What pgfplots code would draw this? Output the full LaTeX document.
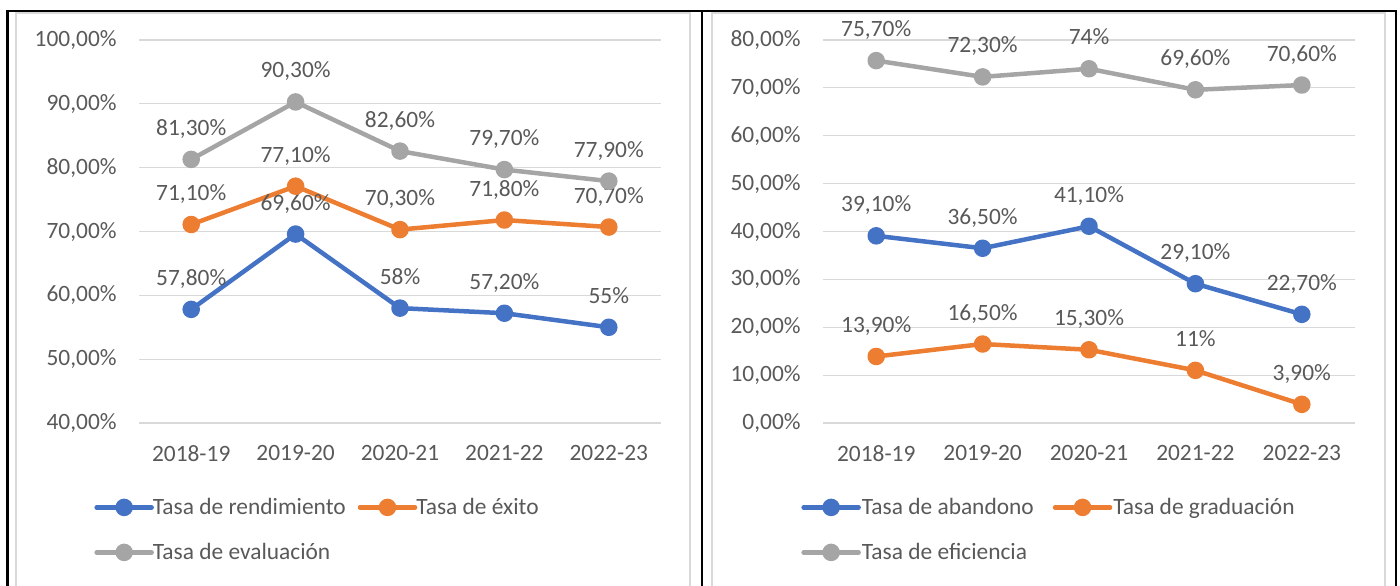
\documentclass[border=0pt]{standalone}
\usepackage{fontspec}
\setmainfont{Carlito}
\usepackage{pgfplots}
\pgfplotsset{compat=1.18}

\definecolor{cblue}{HTML}{4472C4}
\definecolor{corange}{HTML}{ED7D31}
\definecolor{cgray}{HTML}{A5A5A5}
\definecolor{ctext}{HTML}{595959}
\definecolor{cgrid}{HTML}{D9D9D9}

\newcommand{\lbl}{\fontsize{11.7}{14}\selectfont}

\pgfplotsset{
  excel/.style={
    scale only axis,
    anchor=south west,
    axis line style={draw=none},
    major tick length=0pt,
    ymajorgrids, grid style={cgrid, line width=0.6pt},
    xmin=-0.5, xmax=4.5,
    xtick={0,...,4},
    xticklabels={2018-19,2019-20,2020-21,2021-22,2022-23},
    tick label style={font=\lbl, text=ctext},
    yticklabel={\pgfmathprintnumber[fixed,fixed zerofill,precision=2,use comma,assume math mode=true]{\tick}\%},
    yticklabel style={anchor=east, inner sep=0pt, xshift=-11pt},
    xticklabel style={anchor=north, inner sep=0pt, yshift=-11pt},
    clip=false,
    every axis plot/.append style={line width=2.25pt, line join=round, mark=*,
      mark size=3.25pt, mark options={solid, line width=0.5pt},
      nodes near coords, point meta=explicit symbolic},
    nodes near coords style={anchor=base, inner sep=0pt, yshift=12pt, font=\lbl, text=ctext},
    legend columns=2,
    legend image code/.code={
      \draw[#1, line cap=round, mark repeat=2, mark phase=2]
        plot coordinates {(0pt,3.5pt) (13.75pt,3.5pt) (27.5pt,3.5pt)};
    },
    legend style={draw=none, fill=none, inner sep=0pt, anchor=north west,
      font=\lbl, text=ctext, cells={anchor=base west},
      nodes={inner sep=0pt, text height=8pt, text depth=2pt},
      row sep=12.5pt},
  }
}

\begin{document}
\begin{tikzpicture}
\useasboundingbox (0pt,0pt) rectangle (700pt,-292.5pt);
\clip (0pt,0pt) rectangle (700pt,-292.5pt);

% chart frames
\draw[cgrid, line width=0.75pt] (8pt,-6.5pt) rectangle (345pt,-300pt);
\draw[cgrid, line width=0.75pt] (356pt,-6.5pt) rectangle (692.5pt,-300pt);
% table borders
\draw[black, line width=1.3pt] (3pt,-5.4pt) -- (698.7pt,-5.4pt);
\draw[black, line width=1.5pt] (3.75pt,-5.4pt) -- (3.75pt,-300pt);
\draw[black, line width=1.3pt] (351pt,-5.4pt) -- (351pt,-300pt);
\draw[black, line width=1.3pt] (698pt,-5.4pt) -- (698pt,-300pt);

\begin{axis}[excel,
    at={(69.5pt,-211.5pt)},
    width=261pt, height=191.5pt,
    ymin=40, ymax=100, ytick={40,50,...,100},
    legend style={at={(-0.0862,-0.1958)},
      /tikz/every odd column/.append style={column sep=-0.5pt},
      /tikz/every even column/.append style={column sep=6pt}},
]
\addplot[cblue, mark options={fill=cblue}] coordinates {
  (0,57.8) [{57,80\%}] (1,69.6) [{69,60\%}] (2,58) [{58\%}]
  (3,57.2) [{57,20\%}] (4,55) [{55\%}]
};
\addlegendentry{Tasa de rendimiento}
\addplot[corange, mark options={fill=corange}] coordinates {
  (0,71.1) [{71,10\%}] (1,77.1) [{77,10\%}] (2,70.3) [{70,30\%}]
  (3,71.8) [{71,80\%}] (4,70.7) [{70,70\%}]
};
\addlegendentry{Tasa de éxito}
\addplot[cgray, mark options={fill=cgray}] coordinates {
  (0,81.3) [{81,30\%}] (1,90.3) [{90,30\%}] (2,82.6) [{82,60\%}]
  (3,79.7) [{79,70\%}] (4,77.9) [{77,90\%}]
};
\addlegendentry{Tasa de evaluación}
\end{axis}

\begin{axis}[excel,
    at={(411.5pt,-211.5pt)},
    width=266pt, height=191.5pt,
    ymin=0, ymax=80, ytick={0,10,...,80},
    legend style={at={(-0.0414,-0.1958)},
      /tikz/every odd column/.append style={column sep=0.5pt},
      /tikz/every even column/.append style={column sep=9.5pt}},
]
\addplot[cblue, mark options={fill=cblue}] coordinates {
  (0,39.1) [{39,10\%}] (1,36.5) [{36,50\%}] (2,41.1) [{41,10\%}]
  (3,29.1) [{29,10\%}] (4,22.7) [{22,70\%}]
};
\addlegendentry{Tasa de abandono}
\addplot[corange, mark options={fill=corange}] coordinates {
  (0,13.9) [{13,90\%}] (1,16.5) [{16,50\%}] (2,15.3) [{15,30\%}]
  (3,11) [{11\%}] (4,3.9) [{3,90\%}]
};
\addlegendentry{Tasa de graduación}
\addplot[cgray, mark options={fill=cgray}] coordinates {
  (0,75.7) [{75,70\%}] (1,72.3) [{72,30\%}] (2,74) [{74\%}]
  (3,69.6) [{69,60\%}] (4,70.6) [{70,60\%}]
};
\addlegendentry{Tasa de eficiencia}
\end{axis}
\end{tikzpicture}
\end{document}
